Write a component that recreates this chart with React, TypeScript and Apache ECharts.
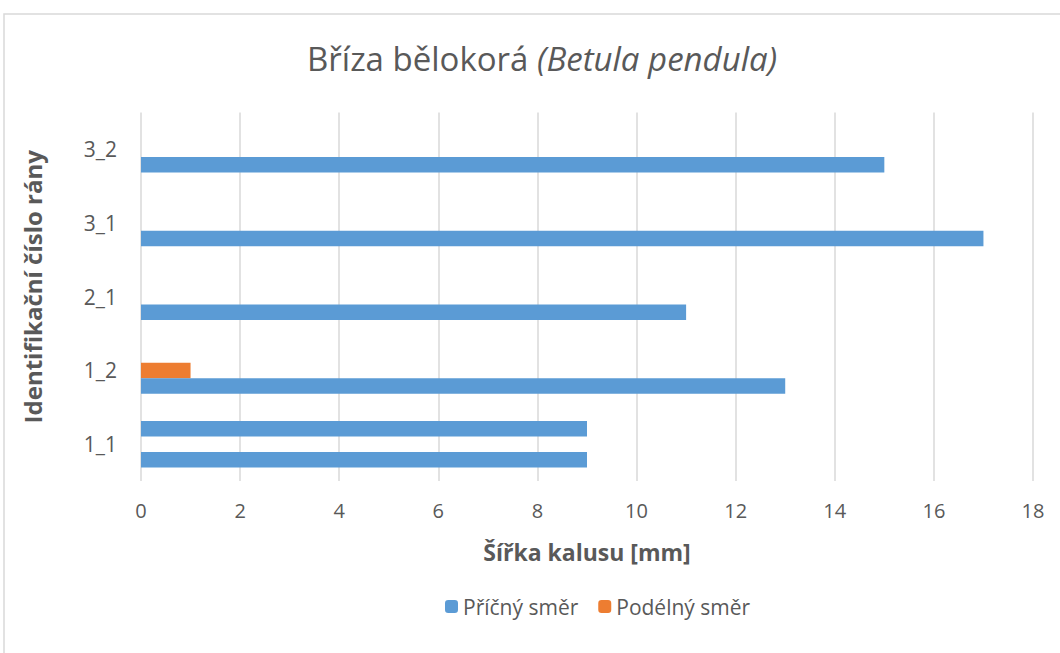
import React, { useEffect, useRef } from "react";
import * as echarts from "echarts";

const categories = ["1_1", "1_2", "2_1", "3_1", "3_2"];
const pricnySmer = [9, 13, 11, 17, 15];
const podelnySmer = [0, 1, 0, 0, 0];
const tretiRada = [9, 0, 0, 0, 0];
const xTicks = { min: 0, max: 18, interval: 2 };

export default function App() {
  const ref = useRef<HTMLDivElement>(null);
  useEffect(() => {
    if (!ref.current) return;
    const chart = echarts.init(ref.current, null, { renderer: "svg" });
    const font = "'Open Sans', 'Noto Sans', sans-serif";
    const grey = "#595959";
    chart.setOption({
      animation: false,
      backgroundColor: "#ffffff",
      textStyle: { fontFamily: font },
      title: {
        text: "{a|Bříza bělokorá }{b|(Betula pendula)}",
        left: 302,
        top: 37,
        textStyle: {
          fontSize: 33,
          fontWeight: "normal",
          color: grey,
          fontFamily: font,
          rich: {
            a: { fontSize: 33, fontWeight: "normal", color: grey, fontFamily: font },
            b: { fontSize: 33, fontWeight: "normal", color: grey, fontStyle: "italic", fontFamily: font },
          },
        },
      },
      graphic: [
        {
          type: "rect",
          shape: { x: 4, y: 14, width: 1200, height: 800 },
          style: { fill: "none", stroke: "#d9d9d9", lineWidth: 1.5 },
          silent: true,
        },
      ],
      legend: {
        data: ["Příčný směr", "Podélný směr"],
        left: 440,
        top: 591,
        itemWidth: 13,
        itemHeight: 13,
        itemGap: 20,
        textStyle: { fontSize: 21, color: grey, fontFamily: font },
      },
      grid: { left: 141, right: 27, top: 112.5, bottom: 172 },
      xAxis: {
        type: "value",
        min: xTicks.min,
        max: xTicks.max,
        interval: xTicks.interval,
        axisLine: { show: false },
        axisTick: { show: false },
        axisLabel: { color: grey, fontSize: 20, margin: 19, fontFamily: font },
        splitLine: { lineStyle: { color: "#d9d9d9", width: 1.5 } },
        name: "Šířka kalusu [mm]",
        nameLocation: "middle",
        nameGap: 59,
        nameTextStyle: { fontSize: 23, fontWeight: "bold", color: grey, fontFamily: font },
      },
      yAxis: {
        type: "category",
        data: categories,
        axisLine: { show: false },
        axisTick: { show: false },
        axisLabel: { color: grey, fontSize: 21, margin: 24, fontFamily: font, padding: [0, 0, 4, 0] },
        name: "Identifikační číslo rány",
        nameLocation: "middle",
        nameGap: 97,
        nameRotate: 90,
        nameTextStyle: { fontSize: 24, fontWeight: "bold", color: grey, fontFamily: font, padding: [0, 0, 0, 20] },
      },
      series: [
        {
          name: "Příčný směr (2)",
          type: "bar",
          data: tretiRada,
          barWidth: 15.5,
          barGap: "0%",
          itemStyle: { color: "#5B9BD5" },
        },
        {
          name: "Podélný směr",
          type: "bar",
          data: podelnySmer,
          barWidth: 15.5,
          barGap: "0%",
          itemStyle: { color: "#ED7D31" },
        },
        {
          name: "Příčný směr",
          type: "bar",
          data: pricnySmer,
          barWidth: 15.5,
          barGap: "0%",
          itemStyle: { color: "#5B9BD5" },
        },
      ],
    });
    return () => chart.dispose();
  }, []);
  return (
    <div
      ref={ref}
      style={{ position: "fixed", left: 0, top: 0, width: 1060, height: 653 }}
    />
  );
}
